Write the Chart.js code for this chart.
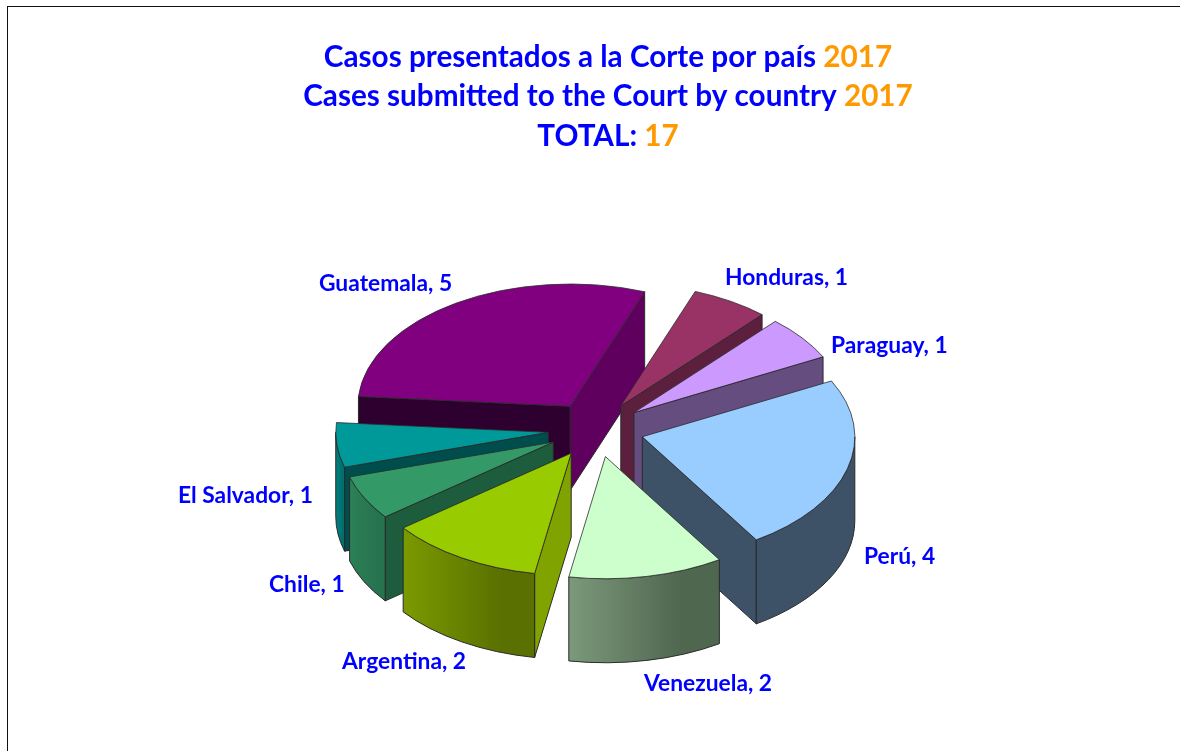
<!DOCTYPE html>
<html>
<head>
<meta charset="utf-8">
<style>
html,body{margin:0;padding:0;background:#fff;overflow:hidden}
#frame{position:absolute;left:7px;top:6px;width:1173px;height:745px;border-left:1px solid #111;border-top:1px solid #111;box-sizing:border-box;pointer-events:none}
canvas{display:block}
</style>
<script src="https://cdn.jsdelivr.net/npm/chart.js@4"></script>
</head>
<body>
<canvas id="c" width="1180" height="751"></canvas>
<div id="frame"></div>
<script>
const categories = ['Honduras','Paraguay','Perú','Venezuela','Argentina','Chile','El Salvador','Guatemala'];
const values = [1,1,4,2,2,1,1,5];
const titleLines = [
  [['Casos presentados a la Corte por país ','#0000ff'],['2017','#ff9900']],
  [['Cases submitted to the Court by country ','#0000ff'],['2017','#ff9900']],
  [['TOTAL: ','#0000ff'],['17','#ff9900']]
];
const topColors  = ['#993366','#cc99ff','#99ccff','#ccffcc','#99cc00','#339966','#009999','#800080'];
const wallLight  = ['#5c1f3d','#664d80','#3d5266','#7c997c','#7a9a00','#2d8057','#008080','#4d004d'];
const wallDark   = ['#5c1f3d','#664d80','#3d5266','#4f664f','#5a7000','#267350','#006f6f','#4d004d'];
const faceStart  = ['#5c1f3d','#664d80','#3d5266','#4f664f','#80a300','#1d5c3d','#004d4d','#2d0030'];
const faceEnd    = ['#5c1f3d','#664d80','#3d5266','#4f664f','#5a7000','#1d5c3d','#004d4d','#5f005f'];
const drawOrder  = [7,0,1,6,5,2,4,3];
const labelAnchors = [[319,291],[725,285],[831,353],[864,564],[644,691],[342,669],[269,592],[178,503]];
const labelOrder = [7,0,1,2,3,4,5,6];

const TILT = 0.575, DEPTH = 84, EXPLODE = 48;

const pie3d = {
  id:'pie3d',
  beforeDatasetDraw(chart){
    const ctx = chart.ctx, arcs = chart.getDatasetMeta(0).data;
    drawOrder.forEach(i=>{
      const arc = arcs[i];
      const a0 = arc.startAngle, a1 = arc.endAngle, r = arc.outerRadius, mid=(a0+a1)/2;
      const cx = arc.x + EXPLODE*Math.cos(mid), cy = arc.y - 1.5 + TILT*EXPLODE*Math.sin(mid);
      const px = a=>cx + r*Math.cos(a), py = a=>cy + TILT*r*Math.sin(a);
      ctx.save();
      ctx.lineWidth = 1; ctx.strokeStyle = '#2a2a2a'; ctx.lineJoin='round';
      const face = (a,color)=>{
        ctx.beginPath();
        ctx.moveTo(cx,cy); ctx.lineTo(px(a),py(a));
        ctx.lineTo(px(a),py(a)+DEPTH); ctx.lineTo(cx,cy+DEPTH); ctx.closePath();
        ctx.fillStyle=color; ctx.fill(); ctx.stroke();
      };
      if (Math.cos(a0) < 0) face(a0, faceStart[i]);
      if (Math.cos(a1) > 0) face(a1, faceEnd[i]);
      const w0 = Math.max(a0,0), w1 = Math.min(a1,Math.PI);
      if (w1 > w0){
        const g = ctx.createLinearGradient(Math.min(px(w0),px(w1)),0,Math.max(px(w0),px(w1)),0);
        g.addColorStop(0,wallLight[i]); g.addColorStop(0.75,wallDark[i]); g.addColorStop(1,wallDark[i]);
        ctx.beginPath();
        ctx.ellipse(cx,cy,r,TILT*r,0,w0,w1);
        ctx.ellipse(cx,cy+DEPTH,r,TILT*r,0,w1,w0,true);
        ctx.closePath();
        ctx.fillStyle=g; ctx.fill(); ctx.stroke();
      }
      ctx.translate(cx,cy); ctx.scale(1,TILT); ctx.translate(-arc.x,-arc.y);
      arc.draw(ctx);
      ctx.restore();
    });
    return false;
  },
  afterDraw(chart){
    const ctx = chart.ctx;
    ctx.save();
    ctx.textBaseline='alphabetic'; ctx.textAlign='left';
    ctx.font='bold 29.7px Lato';
    const baselines=[67,106,146];
    titleLines.forEach((runs,n)=>{
      const w = runs.reduce((s,r)=>s+ctx.measureText(r[0]).width,0);
      let x = 608-w/2;
      runs.forEach(r=>{ctx.fillStyle=r[1];ctx.fillText(r[0],x,baselines[n]);x+=ctx.measureText(r[0]).width;});
    });
    ctx.font='bold 22.8px Lato'; ctx.fillStyle='#0000ff';
    labelOrder.forEach((i,n)=>{ctx.fillText(categories[i]+', '+values[i],labelAnchors[n][0],labelAnchors[n][1]);});
    ctx.restore();
  }
};

new Chart(document.getElementById('c'),{
  type:'pie',
  data:{labels:categories,datasets:[{data:values,backgroundColor:topColors,borderColor:'#2a2a2a',borderWidth:1,rotation:20.5}]},
  options:{
    responsive:false,animation:false,
    layout:{padding:{left:383,right:371,top:218,bottom:107}},
    plugins:{legend:{display:false},tooltip:{enabled:false},title:{display:false}}
  },
  plugins:[pie3d]
});
</script>
</body>
</html>
